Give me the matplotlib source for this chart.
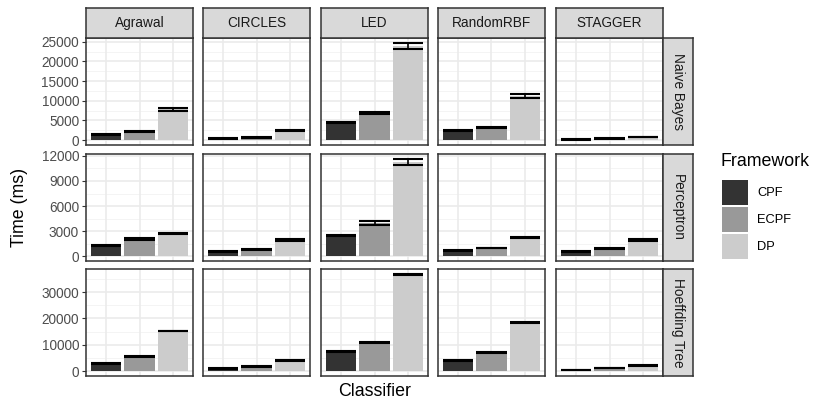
import numpy as np
import matplotlib.pyplot as plt
from matplotlib.patches import Rectangle

plt.rcParams['font.family'] = ['Liberation Sans', 'DejaVu Sans']

datasets = ['Agrawal', 'CIRCLES', 'LED', 'RandomRBF', 'STAGGER']
classifiers = ['Naive Bayes', 'Perceptron', 'Hoeffding Tree']
frameworks = ['CPF', 'ECPF', 'DP']
colors = ['#333333', '#999999', '#CCCCCC']

# mean time (ms): rows = classifier, cols = dataset, inner = CPF, ECPF, DP
nb_mean = [[1500, 2200, 7800], [430, 680, 2400], [4400, 6800, 23900],
           [2400, 3250, 11200], [170, 430, 850]]
nb_sd = [[150, 120, 400], [60, 60, 100], [150, 250, 800],
         [120, 100, 450], [40, 40, 50]]
pc_mean = [[1250, 2050, 2700], [530, 830, 1920], [2480, 3950, 11300],
           [650, 980, 2230], [540, 870, 1950]]
pc_sd = [[80, 100, 100], [70, 50, 90], [90, 200, 350],
         [60, 50, 80], [50, 50, 80]]
ht_mean = [[3000, 5700, 15200], [1150, 1850, 4050], [7600, 10900, 36600],
           [4150, 7150, 18300], [480, 1150, 2150]]
ht_sd = [[200, 180, 150], [220, 180, 180], [180, 180, 300],
         [150, 150, 180], [60, 90, 120]]

means = [nb_mean, pc_mean, ht_mean]
sds = [nb_sd, pc_sd, ht_sd]
ticks = [[0, 5000, 10000, 15000, 20000, 25000],
         [0, 3000, 6000, 9000, 12000],
         [0, 10000, 20000, 30000]]

W, H = 814, 404
fig = plt.figure(figsize=(W / 100, H / 100), dpi=100)

col_x = [86, 203, 321, 438, 556]
pw = 107
row_y = [38, 154, 269]
ph = 107
strip_h = 30
strip_w = 30
border = '#333333'


def px(x, y, w, h):
    return [x / W, 1 - (y + h) / H, w / W, h / H]


for r in range(3):
    top = max(m + s for cm, cs in zip(means[r], sds[r]) for m, s in zip(cm, cs))
    lo, hi = 0 - 0.05 * top, top * 1.05
    step = ticks[r][1]
    minor = np.arange(step / 2, hi, step)
    for c in range(5):
        ax = fig.add_axes(px(col_x[c], row_y[r], pw, ph))
        ax.set_xlim(0.4, 3.6)
        ax.set_ylim(lo, hi)
        for y in minor:
            ax.axhline(y, color='#F2F2F2', lw=0.6, zorder=0)
        for y in ticks[r]:
            ax.axhline(y, color='#EBEBEB', lw=1.2, zorder=0)
        for x in [1, 2, 3]:
            ax.axvline(x, color='#EBEBEB', lw=1.2, zorder=0)
        xs = np.arange(1, 4)
        m = np.array(means[r][c])
        s = np.array(sds[r][c])
        ax.bar(xs, m, width=0.9, color=colors, zorder=2)
        for x, mv, sv in zip(xs, m, s):
            ax.plot([x - 0.45, x + 0.45], [mv - sv] * 2, color='black', lw=1.5, zorder=3, solid_capstyle='butt')
            ax.plot([x - 0.45, x + 0.45], [mv + sv] * 2, color='black', lw=1.5, zorder=3, solid_capstyle='butt')
            ax.plot([x, x], [mv - sv, mv + sv], color='black', lw=1.2, zorder=3)
        ax.set_xticks([])
        if c == 0:
            ax.set_yticks(ticks[r])
            ax.set_yticklabels([str(t) for t in ticks[r]], fontsize=9.8, color='#4D4D4D')
            ax.tick_params(axis='y', length=3, width=0.8, color='#333333', pad=2)
        else:
            ax.set_yticks([])
        for sp in ax.spines.values():
            sp.set_color(border)
            sp.set_linewidth(1.1)
            sp.set_zorder(5)
        if r == 0:
            sax = fig.add_axes(px(col_x[c], row_y[0] - strip_h, pw, strip_h))
            sax.set_facecolor('#D9D9D9')
            sax.set_xticks([])
            sax.set_yticks([])
            for sp in sax.spines.values():
                sp.set_color(border)
                sp.set_linewidth(1.1)
            sax.text(0.5, 0.5, datasets[c], ha='center', va='center', fontsize=9.8, color='#1A1A1A',
                     transform=sax.transAxes)
    rax = fig.add_axes(px(col_x[4] + pw, row_y[r], strip_w, ph))
    rax.set_facecolor('#D9D9D9')
    rax.set_xticks([])
    rax.set_yticks([])
    for sp in rax.spines.values():
        sp.set_color(border)
        sp.set_linewidth(1.1)
    rax.text(0.5, 0.5, classifiers[r], ha='center', va='center', rotation=-90, fontsize=9.8,
             color='#1A1A1A', transform=rax.transAxes)

# axis titles
fig.text(20 / W, 1 - 207 / H, 'Time (ms)', rotation=90, ha='center', va='center', fontsize=12.8)
fig.text(375 / W, 1 - 392 / H, 'Classifier', ha='center', va='center', fontsize=12.8)

# legend
fig.text(721 / W, 1 - 161 / H, 'Framework', ha='left', va='center', fontsize=12.8)
for i, (lab, col) in enumerate(zip(frameworks, colors)):
    y0 = 180 + i * 27
    fig.patches.append(Rectangle((722 / W, 1 - (y0 + 25) / H), 26 / W, 25 / H,
                                 transform=fig.transFigure, facecolor=col, edgecolor='none'))
    fig.text(757 / W, 1 - (y0 + 12.5) / H, lab, ha='left', va='center', fontsize=9.3)

fig.savefig('out.png', dpi=100)
